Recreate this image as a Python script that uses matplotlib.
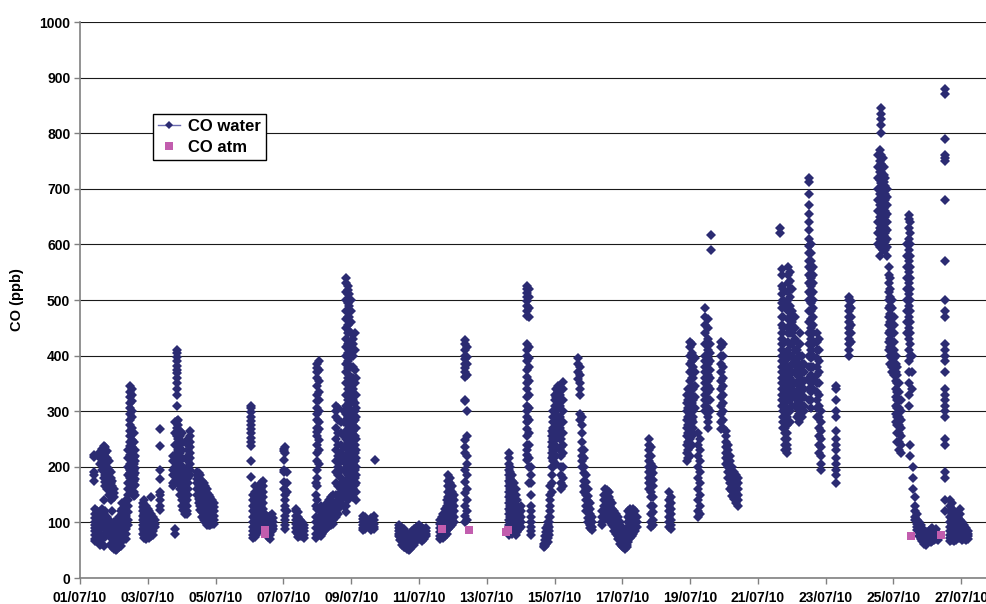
import datetime as dt
import matplotlib
matplotlib.use("Agg")
import matplotlib.pyplot as plt
import matplotlib.dates as mdates
from matplotlib.lines import Line2D

# CO in surface water as (day since 01/07/10, [ppb, ...]) columns
ep_0107 = [
    (0.40, [222, 218, 190, 185, 175]),
    (0.45, [125, 115, 108, 100, 95, 90, 85, 78, 70, 66]),
    (0.50, [120, 110, 102, 96, 88, 82, 75, 68]),
    (0.55, [115, 105, 98, 92, 86, 80, 72]),
    (0.60, [226, 220, 215, 205, 118, 110, 100, 94, 88, 60]),
    (0.65, [232, 225, 218, 208, 195, 125, 105, 97, 76, 70, 62]),
    (0.70, [238, 230, 222, 210, 200, 180, 140, 115, 100, 92, 78, 58]),
    (0.75, [235, 224, 212, 198, 185, 172, 165, 120, 110, 98, 88, 74]),
    (0.80, [228, 215, 200, 188, 175, 168, 160, 110, 95, 85]),
    (0.85, [210, 195, 182, 172, 165, 158, 150]),
    (0.90, [190, 180, 170, 162, 155, 148, 140, 100, 85, 75, 62]),
    (0.95, [175, 166, 158, 150, 120, 98, 88, 70, 60, 55]),
    (1.00, [160, 152, 145, 100, 92, 82, 72, 62, 56, 52]),
    (1.05, [98, 88, 80, 72, 66, 60, 54, 50]),
    (1.10, [105, 95, 86, 78, 70, 62, 56, 52]),
    (1.15, [110, 100, 92, 84, 76, 68, 60, 55]),
    (1.20, [120, 112, 104, 96, 88, 80, 72, 64, 58]),
    (1.25, [135, 125, 115, 106, 98, 90, 82, 74, 66]),
    (1.35, [140, 130, 120, 112, 104, 96, 88, 80, 70]),
    (1.42, [230, 215, 200, 185, 170, 160, 150, 140, 130, 118, 105, 95]),
    (1.47, [345, 335, 325, 315, 305, 295, 285, 275, 265, 255, 245, 238, 230,
            222, 215, 205, 195, 188, 180, 170, 160]),
    (1.52, [340, 330, 318, 300, 290, 270, 260, 248, 235, 225, 212, 200, 190, 180, 165]),
    (1.58, [260, 245, 230, 218, 205, 195, 185, 175, 165, 155, 148]),
    (1.63, [230, 220, 210, 198, 188, 178, 168, 150]),
]

ep_0307 = [
    (1.85, [135, 128, 120, 112, 104, 96, 88, 80]),
    (1.90, [140, 132, 124, 116, 108, 100, 92, 85, 78, 72]),
    (1.95, [130, 122, 114, 106, 98, 90, 82, 76, 70]),
    (2.00, [125, 118, 110, 102, 94, 86, 80, 74]),
    (2.05, [120, 112, 104, 96, 88, 82, 76, 72]),
    (2.10, [145, 115, 108, 100, 92, 86, 80, 75]),
    (2.15, [110, 103, 96, 90, 84, 78]),
    (2.20, [105, 98, 92]),
    (2.36, [268, 238, 195, 178, 155, 150, 140, 130, 122]),
    (2.75, [220, 210, 195, 185, 170, 165]),
    (2.80, [280, 260, 240, 220, 200, 185, 175, 88, 80]),
    (2.85, [410, 405, 398, 390, 382, 375, 368, 360, 350, 340, 330, 310, 282,
            270, 255, 240, 225, 210, 195, 185]),
    (2.90, [285, 275, 262, 250, 240, 230, 220, 205, 195, 180, 170]),
    (2.95, [265, 255, 240, 225, 210, 200, 190, 180, 170, 160, 150]),
    (3.00, [260, 245, 230, 215, 200, 190, 180, 170, 160, 150, 140, 130]),
    (3.05, [200, 190, 180, 170, 160, 150, 140, 130, 122]),
    (3.10, [175, 165, 155, 145, 135, 128, 120, 115]),
    (3.15, [190, 180, 170, 160, 150, 140, 130, 120, 115]),
    (3.20, [250, 240, 230, 220, 210, 200, 190, 180, 170, 160, 150]),
    (3.25, [265, 255, 245, 235, 225, 215, 205, 195, 185]),
    (3.45, [190, 185, 178, 170, 160, 150]),
    (3.50, [188, 180, 172, 165, 158, 150, 142, 135]),
    (3.55, [185, 176, 168, 160, 152, 145, 138, 130, 122]),
    (3.60, [175, 168, 160, 153, 146, 139, 132, 125, 118, 110]),
    (3.65, [170, 162, 155, 148, 141, 134, 127, 120, 112, 105]),
    (3.70, [165, 158, 150, 143, 136, 129, 122, 115, 108, 100]),
    (3.75, [160, 152, 145, 138, 130, 123, 116, 109, 102, 96]),
    (3.80, [150, 142, 135, 128, 120, 113, 106, 100, 95]),
    (3.85, [145, 138, 130, 122, 115, 108, 100, 95]),
    (3.90, [140, 132, 125, 118, 110, 104, 98]),
    (3.95, [135, 128, 120, 112, 105, 98]),
]

ep_0607 = [
    (5.05, [310, 305, 298, 290, 282, 275, 268, 260, 252, 245, 238, 210, 182]),
    (5.10, [150, 140, 130, 120, 110, 100, 92, 85, 78, 72]),
    (5.15, [165, 155, 145, 135, 125, 115, 105, 96, 88, 80, 74]),
    (5.20, [140, 130, 120, 110, 100, 92, 85, 78]),
    (5.25, [145, 135, 125, 115, 105, 98, 90, 84]),
    (5.30, [155, 145, 135, 125, 115, 106, 98, 92, 86]),
    (5.35, [170, 160, 150, 140, 130, 120, 110, 102, 95, 88]),
    (5.40, [175, 165, 155, 145, 135, 125, 115, 105, 98]),
    (5.45, [115, 108, 100, 94]),
    (5.55, [110, 104, 98, 92, 86, 80, 74]),
    (5.60, [112, 106, 100, 95, 90, 84, 78, 70]),
    (5.65, [115, 108, 102, 96, 90, 85]),
    (5.70, [108, 100, 94, 88]),
    (6.02, [232, 228, 212, 195, 190, 172, 160]),
    (6.06, [235, 225, 150, 140, 130, 122, 112, 104, 96, 88]),
    (6.10, [190, 170, 155, 120]),
    (6.36, [125, 120, 112, 105, 98, 90, 82]),
    (6.42, [118, 110, 102, 95, 88, 80, 74]),
    (6.48, [105, 98, 92, 86, 80, 75]),
    (6.54, [100, 94, 88, 82, 76]),
    (6.60, [95, 90, 84, 78, 72]),
]

ep_0807 = [
    (6.95, [170, 150, 130, 110, 100, 90, 80, 72]),
    (7.00, [385, 378, 370, 360, 345, 330, 318, 305, 295, 285, 270, 262, 255,
            240, 225, 210, 195, 180, 165, 140, 125]),
    (7.05, [390, 375, 355, 335, 320, 300, 280, 268, 248, 230, 205, 110, 100, 92, 85, 78]),
    (7.10, [130, 118, 108, 100, 94, 88, 82, 76]),
    (7.15, [120, 110, 102, 96, 90, 85, 80]),
    (7.20, [125, 115, 106, 100, 94, 88, 84]),
    (7.25, [130, 120, 112, 104, 98, 92, 88]),
    (7.30, [135, 125, 115, 106, 98, 92]),
    (7.35, [140, 128, 118, 108, 100, 94]),
    (7.40, [145, 132, 120, 110, 102, 96]),
    (7.45, [150, 136, 124, 112, 104, 98]),
    (7.55, [310, 300, 290, 270, 250, 230, 210, 190, 170, 150, 135, 120, 110]),
    (7.62, [305, 285, 260, 240, 220, 200, 185, 165, 150, 138, 125, 115]),
    (7.70, [280, 260, 240, 225, 210, 195, 180, 170, 160, 150, 140, 130]),
    (7.78, [300, 280, 255, 235, 215, 195, 175, 160, 145, 130]),
    (7.85, [540, 530, 515, 500, 480, 465, 450, 430, 415, 400, 385, 370, 350,
            330, 310, 295, 280, 265, 250, 235, 220, 205, 190, 175, 160, 145, 130, 118]),
    (7.90, [525, 518, 510, 495, 470, 455, 440, 420, 405, 390, 378, 360, 340,
            320, 305, 290, 275, 260, 245, 230, 215, 200, 185, 170, 155, 140]),
    (7.95, [510, 490, 470, 445, 425, 410, 395, 380, 365, 350, 330, 315, 300,
            285, 270, 255, 240, 228, 215, 200, 190, 178, 165, 150]),
    (8.00, [500, 480, 460, 440, 420, 400, 380, 360, 345, 330, 315, 300, 285,
            270, 255, 240, 225, 210, 195, 180, 165]),
    (8.05, [430, 420, 400, 380, 360, 340, 320, 300, 290, 280, 265, 250, 235,
            220, 205, 190, 175, 160, 145]),
    (8.10, [440, 410, 375, 350, 330, 315, 300, 285, 270, 255, 240, 225, 210,
            195, 180, 168, 155]),
    (8.15, [360, 330, 305, 290, 270, 250, 230, 215, 200, 185, 170, 155, 140]),
    (8.35, [112, 106, 100, 95, 90, 86]),
    (8.42, [110, 104, 98, 92, 88]),
    (8.60, [108, 102, 96, 90, 86]),
    (8.66, [112, 105, 98, 92, 88]),
    (8.70, [212]),
]

ep_1107 = [
    (9.40, [95, 90, 85, 80, 75]),
    (9.45, [92, 86, 80, 74, 68]),
    (9.50, [90, 84, 78, 72, 66, 60]),
    (9.55, [88, 82, 76, 70, 64, 55]),
    (9.60, [85, 78, 72, 66, 60, 56]),
    (9.65, [80, 74, 68, 62, 58, 52]),
    (9.70, [78, 72, 66, 60, 55, 50]),
    (9.75, [80, 74, 68, 62, 57, 52]),
    (9.80, [84, 77, 70, 64, 58]),
    (9.85, [88, 80, 72, 66, 60]),
    (9.90, [90, 84, 78, 72, 66]),
    (9.95, [92, 86, 80, 74, 68]),
    (10.00, [95, 88, 82, 76, 70]),
    (10.05, [92, 86, 80, 75]),
    (10.10, [90, 84, 78, 72, 66]),
    (10.15, [88, 82, 76, 70]),
    (10.20, [90, 85, 80, 75]),
    (10.62, [105, 98, 90, 82, 75, 70]),
    (10.67, [110, 102, 95, 88, 80, 74]),
    (10.72, [115, 108, 100, 92, 85, 78, 72]),
    (10.77, [125, 115, 106, 98, 90, 82, 76]),
    (10.82, [140, 130, 120, 110, 102, 94, 86, 80]),
    (10.87, [185, 175, 165, 155, 145, 135, 125, 115, 105, 96, 88]),
    (10.92, [180, 170, 160, 150, 140, 130, 120, 110, 100, 92]),
    (10.97, [165, 155, 145, 135, 125, 115, 105, 96]),
    (11.02, [150, 140, 130, 120, 110, 100]),
    (11.35, [428, 420, 410, 400, 393, 385, 378, 370, 362, 320, 318, 248, 235,
             225, 195, 172, 152, 130, 112, 100]),
    (11.42, [415, 398, 385, 365, 300, 255, 220, 205, 185, 160, 140, 120, 105]),
]

ep_1307 = [
    (12.65, [225, 215, 205, 195, 185, 175, 165, 155, 145, 135, 125, 115, 105, 95, 85, 78]),
    (12.70, [200, 190, 180, 170, 160, 150, 140, 130, 120, 110, 100, 92, 84]),
    (12.75, [185, 175, 165, 155, 145, 135, 125, 115, 105, 96, 88, 80]),
    (12.80, [170, 160, 150, 140, 130, 120, 110, 100, 92, 85]),
    (12.85, [160, 150, 140, 130, 120, 110, 100, 92, 85, 78]),
    (12.90, [140, 130, 120, 110, 100, 90, 82]),
    (12.95, [125, 115, 105, 95, 88]),
    (13.00, [130, 120, 110, 100, 92]),
    (13.20, [525, 520, 512, 505, 498, 490, 480, 472, 420, 410, 400, 390, 375,
             362, 350, 340, 325, 310, 300, 290, 280, 268, 255, 240, 230, 222, 212]),
    (13.25, [520, 505, 485, 470, 415, 395, 380, 355, 330, 305, 285, 260, 240, 215, 200, 170]),
    (13.32, [200, 185, 170, 150, 130, 120, 110, 100, 92, 85, 78]),
    (13.68, [62, 58, 55]),
    (13.72, [75, 68, 62, 58]),
    (13.76, [90, 82, 75, 68, 62]),
    (13.80, [100, 95, 88, 80, 72, 65]),
    (13.84, [110, 100, 92, 85, 78]),
    (13.88, [165, 150, 140, 130, 120, 110]),
    (13.92, [265, 255, 245, 235, 225, 215, 200, 185, 170, 155]),
    (13.96, [300, 290, 280, 270, 260, 250, 240, 230, 220, 210, 200]),
    (14.00, [330, 320, 310, 300, 290, 280, 270, 260, 250, 240, 230]),
    (14.05, [340, 325, 310, 295, 280, 265, 250, 235, 220, 205]),
    (14.10, [345, 335, 320, 305, 290, 275, 260]),
    (14.15, [330, 310, 290, 270, 250, 230]),
    (14.20, [250, 235, 220, 200, 185, 170, 160]),
    (14.25, [352, 340, 320, 300, 280, 260, 240, 225, 200, 180, 165]),
    (14.68, [395, 385, 370, 358]),
    (14.74, [380, 365, 350, 340, 330, 295, 285]),
    (14.80, [290, 275, 260, 245, 230, 220, 210, 200]),
    (14.86, [230, 215, 200, 188, 175, 165, 155]),
    (14.92, [185, 172, 160, 150, 140, 130, 120]),
    (14.98, [160, 148, 138, 128, 118, 108, 100]),
    (15.04, [135, 125, 115, 105, 96, 90]),
    (15.10, [110, 100, 92, 86]),
]

ep_1707 = [
    (15.40, [120, 110, 100, 95]),
    (15.45, [150, 140, 130, 120, 110]),
    (15.50, [160, 150, 140, 130, 120, 110]),
    (15.55, [158, 148, 138, 128, 118, 108]),
    (15.60, [155, 145, 135, 125, 115, 105]),
    (15.65, [140, 130, 120, 110, 100]),
    (15.70, [135, 125, 115, 105, 95]),
    (15.75, [120, 110, 100, 92, 85]),
    (15.80, [115, 105, 96, 88, 80]),
    (15.88, [110, 100, 90, 82, 75, 70]),
    (15.93, [100, 90, 82, 75, 68, 62]),
    (15.98, [92, 84, 76, 70, 64, 58]),
    (16.03, [85, 78, 72, 66, 60, 55]),
    (16.08, [80, 74, 68, 62, 57, 53]),
    (16.13, [85, 78, 72, 66, 60, 56]),
    (16.18, [120, 110, 100, 92, 84, 76, 70, 64]),
    (16.23, [125, 115, 105, 95, 88, 80, 72]),
    (16.28, [118, 108, 98, 90, 82, 76]),
    (16.33, [125, 115, 105, 96, 88, 80]),
    (16.38, [120, 110, 100, 92, 85]),
    (16.43, [110, 100, 92]),
    (16.78, [250, 240, 230, 220, 210, 200, 190, 180, 170, 160]),
    (16.84, [235, 220, 205, 195, 185, 175, 165, 155, 145, 130, 115, 100, 92]),
    (16.90, [200, 188, 176, 165, 145, 130, 118, 105, 95]),
    (17.38, [155, 140, 130, 120, 110, 100, 92]),
    (17.44, [145, 135, 125, 115, 105, 95, 88]),
]

ep_1907 = [
    (17.90, [330, 315, 300, 285, 270, 255, 240, 225, 210]),
    (17.95, [340, 320, 305, 290, 275, 260, 245, 230, 215]),
    (18.00, [425, 415, 400, 385, 370, 355, 340, 325, 310, 295, 280, 265, 250, 235, 220]),
    (18.05, [420, 405, 390, 375, 360, 345, 330, 315, 300, 285, 270, 255, 240]),
    (18.10, [400, 380, 360, 340, 320, 300, 290, 280, 270, 260]),
    (18.15, [395, 370, 345, 325, 305]),
    (18.22, [260, 240, 220, 200, 180, 160, 140, 120, 110]),
    (18.30, [250, 230, 210, 190, 170, 150, 130, 115]),
    (18.45, [485, 470, 455, 440, 420, 400, 390, 380, 370, 360, 350, 340, 330, 320, 310, 300]),
    (18.52, [465, 450, 430, 410, 395, 385, 375, 365, 355, 345, 335, 320, 305, 290, 280, 270]),
    (18.58, [420, 405, 390, 375, 360, 340, 320, 300]),
    (18.62, [617, 590]),
    (18.90, [425, 415, 400, 385, 370, 355, 340, 325, 310, 295, 280, 268]),
    (18.96, [420, 400, 380, 360, 345, 330, 315, 300, 285, 270]),
    (19.05, [265, 255, 245, 235, 225, 215, 205]),
    (19.12, [240, 230, 220, 210, 200, 190, 180]),
    (19.18, [220, 210, 200, 190, 180, 170, 160]),
    (19.24, [200, 190, 180, 172, 164, 156, 148]),
    (19.30, [190, 182, 174, 166, 158, 150, 142]),
    (19.36, [185, 176, 168, 160, 152, 144, 135]),
    (19.42, [180, 170, 160, 150, 140, 130]),
]

ep_2207 = [
    (20.66, [630, 620]),
    (20.70, [555, 545, 525, 510, 495, 485, 470, 455, 440, 430, 420, 410, 400,
             390, 380, 370, 360, 350, 340, 330, 320, 310]),
    (20.75, [520, 500, 470, 450, 420, 400, 390, 380, 370, 360, 350, 340, 330,
             320, 310, 300, 290, 280, 270]),
    (20.80, [400, 385, 370, 355, 340, 325, 310, 300, 290, 280, 270, 260, 250, 240, 230]),
    (20.85, [380, 365, 350, 335, 320, 305, 290, 275, 260, 250, 240, 232, 225]),
    (20.90, [560, 545, 530, 515, 500, 490, 480, 465, 450, 440, 425, 410, 395,
             380, 365, 350, 335, 320]),
    (20.95, [550, 535, 520, 505, 490, 470, 455, 440, 420, 400, 380, 360, 340, 320, 300, 280]),
    (21.00, [520, 480, 460, 440, 420, 400, 385, 370, 355, 340, 325, 310]),
    (21.10, [470, 450, 430, 410, 390, 370, 350, 330, 310]),
    (21.15, [410, 395, 380, 365, 350, 335, 320, 305, 290]),
    (21.20, [420, 400, 385, 370, 355, 340, 325, 310, 295, 280]),
    (21.25, [440, 420, 400, 380, 365, 350, 335, 320, 305]),
    (21.30, [400, 385, 370, 355, 340, 325, 310, 290]),
    (21.35, [385, 370, 355, 340, 325, 310, 300]),
    (21.50, [720, 712, 690, 670, 655, 640, 625, 610, 598, 585, 570, 560, 545,
             530, 515, 500, 480, 460, 440, 420, 400, 380, 360, 340, 320]),
    (21.56, [600, 585, 570, 555, 540, 525, 510, 495, 480, 465, 450, 430, 410,
             395, 380, 365, 350, 335, 320, 305]),
    (21.62, [560, 545, 530, 515, 500, 485, 470, 455, 440, 420, 400, 380, 360, 340]),
    (21.75, [440, 425, 410, 395, 380, 365, 350, 335, 320, 305, 290]),
    (21.80, [430, 410, 390, 370, 350, 330, 310, 290, 270, 255, 240, 225]),
    (21.86, [300, 280, 265, 250, 235, 220, 205, 195]),
    (22.30, [345, 340, 320, 300, 290, 265, 250, 240, 230, 215, 205, 195, 185, 170]),
    (22.68, [505, 500, 490, 480, 470, 460, 450, 440, 430, 420, 410, 400]),
    (22.74, [498, 485, 470, 455, 440, 425]),
]

ep_2507 = [
    (23.55, [760, 740, 720, 700, 680, 660, 640, 620, 600]),
    (23.60, [770, 750, 730, 715, 700, 690, 680, 670, 660, 650, 640, 630, 620, 610, 595, 580]),
    (23.64, [845, 835, 825, 815, 800, 760, 745, 730, 720, 710, 700, 690, 680,
             670, 660, 650, 640, 625, 610]),
    (23.68, [755, 740, 725, 712, 700, 690, 680, 672, 664, 656, 648, 640, 630, 620, 605, 590]),
    (23.72, [740, 725, 712, 700, 690, 682, 674, 666, 658, 650, 640, 630, 615]),
    (23.76, [720, 705, 690, 680, 670, 660, 650, 640, 630, 620, 605, 590]),
    (23.80, [700, 685, 670, 655, 640, 625, 610, 595, 580]),
    (23.86, [560, 545, 530, 515, 500, 485, 470, 455, 440, 425, 410]),
    (23.91, [540, 520, 505, 490, 475, 460, 445, 430, 415, 400, 385]),
    (23.96, [500, 485, 470, 455, 440, 425, 410, 395, 380, 370]),
    (24.01, [470, 455, 440, 425, 410, 395, 380, 365]),
    (24.06, [400, 385, 370, 355, 340, 325, 310, 295, 280]),
    (24.11, [380, 365, 350, 335, 320, 305, 290, 275, 260, 245]),
    (24.16, [350, 335, 320, 305, 290, 275, 260, 245, 230]),
    (24.21, [320, 300, 285, 270, 255, 240, 225]),
    (24.40, [600, 580, 560, 540, 520, 500, 480, 460, 440]),
    (24.45, [652, 645, 630, 610, 590, 570, 550, 530, 510, 490, 470, 450, 430,
             410, 390, 370, 350, 330, 310]),
    (24.50, [640, 620, 600, 580, 560, 540, 520, 500, 480, 460, 440, 420, 400, 240, 220]),
    (24.55, [400, 370, 340]),
    (24.58, [200, 180, 160]),
    (24.64, [145, 130, 120, 110, 105]),
    (24.70, [115, 105, 98, 92, 86]),
    (24.75, [100, 94, 88, 82, 76]),
    (24.80, [95, 88, 82, 76, 70]),
    (24.85, [90, 84, 78, 72, 66]),
    (24.90, [85, 78, 72, 66, 62]),
    (24.95, [82, 76, 70, 65, 60]),
    (25.00, [80, 74, 68, 64]),
    (25.05, [85, 78, 72, 66]),
    (25.10, [88, 82, 76, 70, 64]),
    (25.15, [90, 84, 78, 72, 66]),
    (25.20, [85, 80, 74, 68]),
    (25.25, [88, 82, 76, 70]),
    (25.30, [80, 74, 68]),
    (25.52, [880, 870, 790, 760, 755, 750, 680, 570, 500, 480, 470, 420, 410,
             400, 390, 370, 340, 330, 320, 310, 300, 290, 250, 240, 190, 180, 140, 120]),
    (25.66, [140, 130, 120, 110, 100, 92, 85, 78, 72, 66]),
    (25.72, [135, 125, 115, 105, 96, 88, 80, 74, 68]),
    (25.78, [120, 110, 100, 92, 85, 78, 72, 66]),
    (25.84, [105, 96, 88, 80, 74, 68]),
    (25.90, [110, 100, 92, 85, 78, 72]),
    (25.96, [125, 115, 105, 96, 88, 80, 72]),
    (26.02, [100, 92, 85, 78, 72, 68]),
    (26.08, [95, 88, 82, 76, 70]),
    (26.14, [90, 84, 78, 72, 68]),
    (26.20, [85, 80, 75, 70]),
]

# CO in the atmosphere
atm_day = [5.46, 5.46, 10.68, 11.47, 12.58, 12.62, 24.52, 25.40]
atm_co = [79, 86, 88, 86, 82, 86, 76, 78]

start = dt.datetime(2010, 7, 1)
episodes = [ep_0107, ep_0307, ep_0607, ep_0807, ep_1107,
            ep_1307, ep_1707, ep_1907, ep_2207, ep_2507]

water_t, water_co = [], []
for ep in episodes:
    for day, vals in ep:
        for v in vals:
            water_t.append(start + dt.timedelta(days=day))
            water_co.append(v)
atm_t = [start + dt.timedelta(days=d) for d in atm_day]

plt.rcParams['font.family'] = ['Liberation Sans', 'DejaVu Sans']
plt.rcParams['font.weight'] = 'bold'

navy = '#2B2B72'
pink = '#C25DAE'

fig = plt.figure(figsize=(9.86, 6.04), dpi=100)
ax = fig.add_axes([80 / 986, 26 / 604, 906 / 986, 556 / 604])

ax.plot(water_t, water_co, linestyle='none', marker='D', ms=4.8,
        color=navy, markeredgewidth=0, zorder=3)
ax.plot(atm_t, atm_co, linestyle='none', marker='s', ms=6,
        color=pink, markeredgewidth=0, zorder=4)

ax.set_ylim(0, 1000)
ax.set_yticks(range(0, 1001, 100))
ax.set_xlim(start, start + dt.timedelta(days=26.73))
ax.set_xticks([start + dt.timedelta(days=d) for d in range(0, 27, 2)])
ax.xaxis.set_major_formatter(mdates.DateFormatter('%d/%m/%y'))

ax.grid(axis='y', color='#1a1a1a', linewidth=0.8, zorder=0)
ax.set_axisbelow(True)
for side in ('top', 'right'):
    ax.spines[side].set_visible(False)
for side in ('left', 'bottom'):
    ax.spines[side].set_color('#808080')
    ax.spines[side].set_linewidth(1.2)
ax.tick_params(axis='both', length=4, width=1, color='#808080',
               labelsize=10, pad=3)
ax.tick_params(axis='x', pad=5)
for lbl in ax.get_xticklabels() + ax.get_yticklabels():
    lbl.set_fontweight('bold')

ax.set_ylabel('CO (ppb)', fontsize=10.5, fontweight='bold', labelpad=11)

handles = [
    Line2D([], [], color='#6A6AB0', lw=1, marker='D', ms=4.5,
           markerfacecolor=navy, markeredgewidth=0),
    Line2D([], [], linestyle='none', marker='s', ms=6,
           color=pink, markeredgewidth=0),
]
leg = fig.legend(handles, ['CO water', 'CO atm'], loc='upper left',
                 bbox_to_anchor=(153 / 986, 1 - 114 / 604),
                 frameon=True, fancybox=False, framealpha=1,
                 edgecolor='black', handlelength=1.3,
                 borderpad=0.3, labelspacing=0.35, handletextpad=0.5,
                 borderaxespad=0, prop={'weight': 'bold', 'size': 12})
leg.get_frame().set_linewidth(1)

fig.savefig('out.png', dpi=100)
